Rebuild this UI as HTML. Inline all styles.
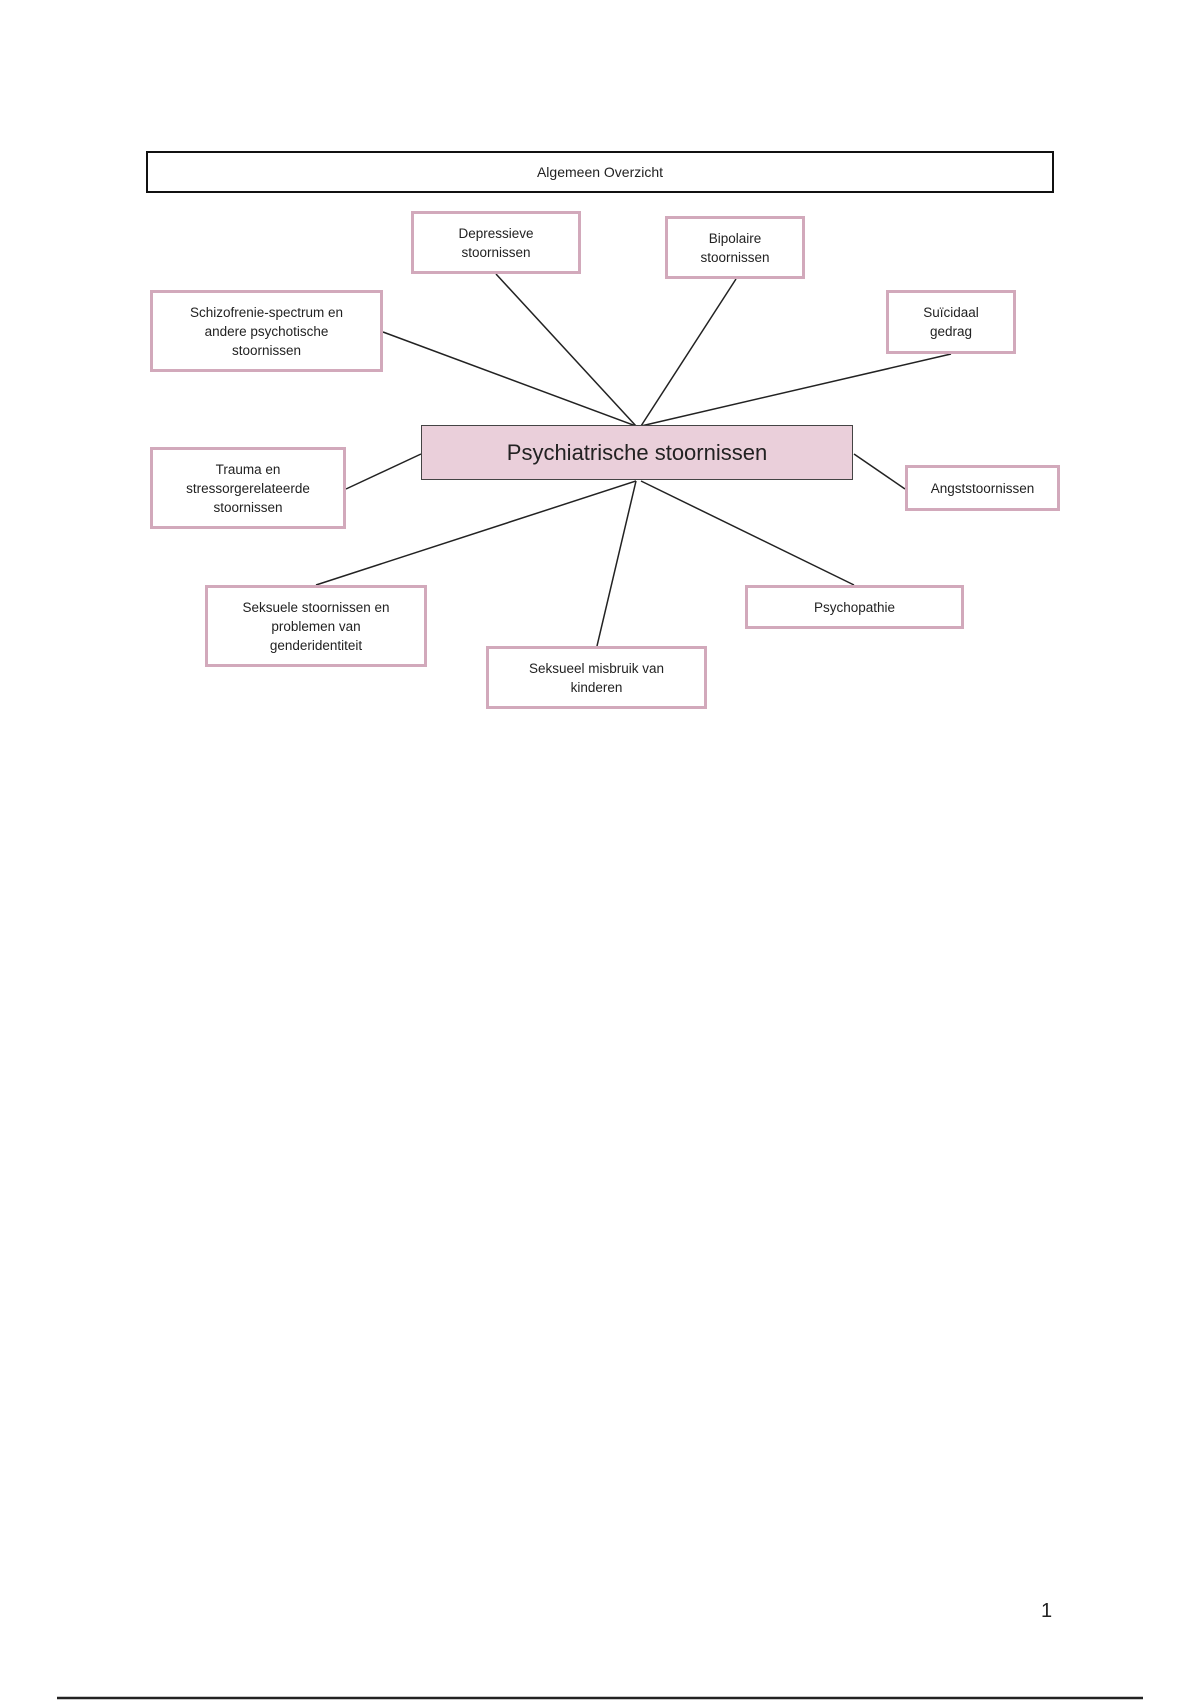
<!DOCTYPE html>
<html><head><meta charset="utf-8"><style>
html,body{margin:0;padding:0;background:#fff;}
body{width:1200px;height:1700px;position:relative;overflow:hidden;font-family:"Liberation Sans",sans-serif;color:#222;}
.b{position:absolute;box-sizing:border-box;border:3px solid #d2a9bb;background:#fff;display:flex;align-items:center;justify-content:center;text-align:center;font-size:13.5px;line-height:19px;}
svg{position:absolute;left:0;top:0;}
</style></head><body>
<svg width="1200" height="1700">
<g stroke="#222" stroke-width="1.5">
<line x1="383" y1="332" x2="636" y2="426"/>
<line x1="496" y1="274" x2="636" y2="426"/>
<line x1="736" y1="279" x2="641" y2="426"/>
<line x1="951" y1="354" x2="641" y2="426"/>
<line x1="346" y1="489" x2="421" y2="454"/>
<line x1="905" y1="489" x2="854" y2="454"/>
<line x1="636" y1="481" x2="316" y2="585"/>
<line x1="636" y1="481" x2="597" y2="646"/>
<line x1="641" y1="481" x2="854" y2="585"/>
<line x1="57" y1="1698" x2="1143" y2="1698" stroke-width="2.5"/>
</g>
</svg>
<div class="b" style="left:146px;top:151px;width:908px;height:42px;border:2px solid #111;font-size:14px;">Algemeen Overzicht</div>
<div class="b" style="left:411px;top:211px;width:170px;height:63px;">Depressieve<br>stoornissen</div>
<div class="b" style="left:665px;top:216px;width:140px;height:63px;">Bipolaire<br>stoornissen</div>
<div class="b" style="left:150px;top:290px;width:233px;height:82px;">Schizofrenie-spectrum en<br>andere psychotische<br>stoornissen</div>
<div class="b" style="left:886px;top:290px;width:130px;height:64px;">Suïcidaal<br>gedrag</div>
<div class="b" style="left:421px;top:425px;width:432px;height:55px;border:1.5px solid #444;background:#eacfda;font-size:22px;">Psychiatrische stoornissen</div>
<div class="b" style="left:150px;top:447px;width:196px;height:82px;">Trauma en<br>stressorgerelateerde<br>stoornissen</div>
<div class="b" style="left:905px;top:465px;width:155px;height:46px;">Angststoornissen</div>
<div class="b" style="left:205px;top:585px;width:222px;height:82px;">Seksuele stoornissen en<br>problemen van<br>genderidentiteit</div>
<div class="b" style="left:745px;top:585px;width:219px;height:44px;">Psychopathie</div>
<div class="b" style="left:486px;top:646px;width:221px;height:63px;">Seksueel misbruik van<br>kinderen</div>
<div style="position:absolute;left:1041px;top:1600px;font-size:20px;">1</div>
</body></html>
